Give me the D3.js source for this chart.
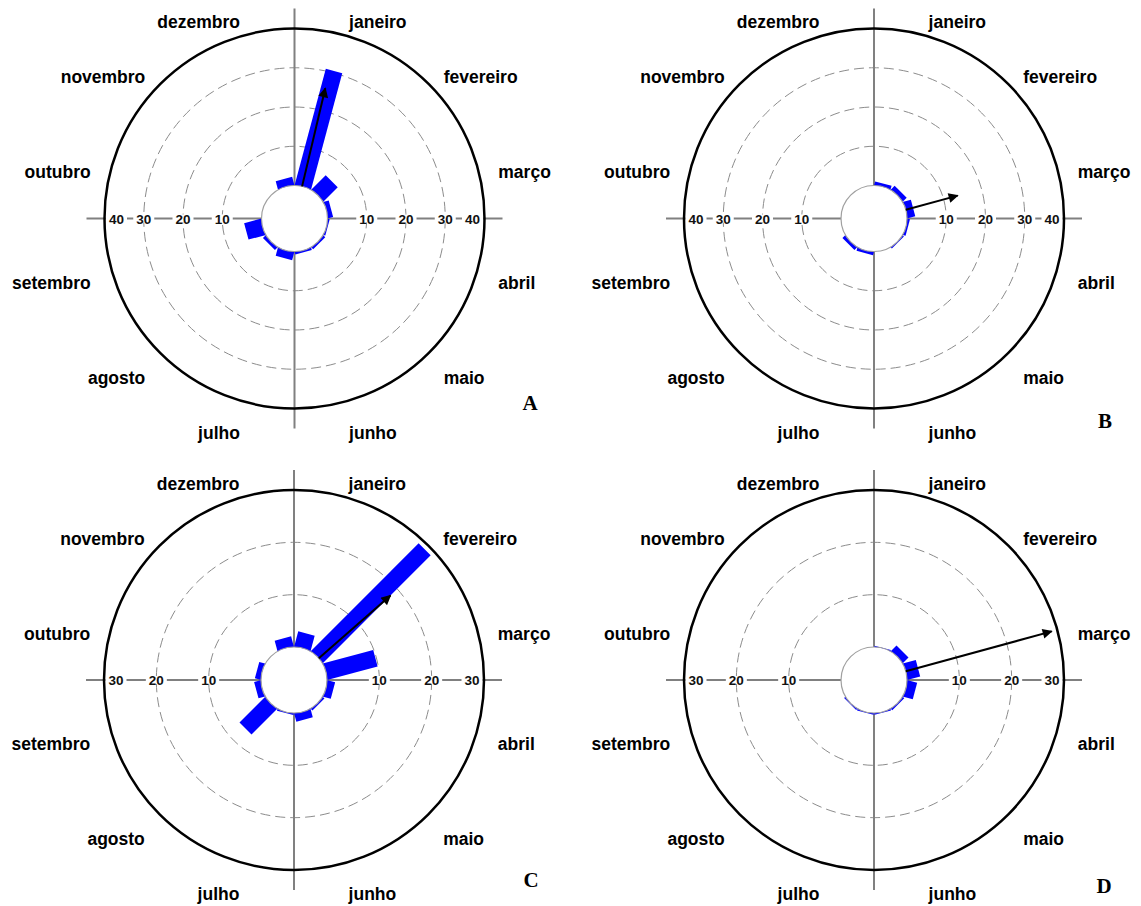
<!DOCTYPE html>
<html>
<head>
<meta charset="utf-8">
<script src="https://cdn.jsdelivr.net/npm/d3@7"></script>
<style>
  html, body { margin: 0; padding: 0; background: #fff; }
  svg { display: block; }
</style>
</head>
<body>
<script>
// ---------------- data ----------------
const months = ["janeiro","fevereiro","março","abril","maio","junho","julho","agosto","setembro","outubro","novembro","dezembro"];
const panelNames = ["A","B","C","D"];
const valuesA = [30.5, 5.0, 1.2, 0.3, 0.5, 0.5, 2.0, 0.8, 4.3, 0, 0, 2.0];
const valuesB = [0.8, 1.2, 1.9, 0.5, 0.2, 0, 0.7, 0.8, 0, 0, 0, 0];
const valuesC = [2.9, 29.0, 9.8, 1.4, 0.3, 1.5, 0.2, 6.8, 1.15, 1.0, 0, 1.9];
const valuesD = [0.05, 1.4, 2.4, 1.8, 0.25, 0.15, 0.15, 0.15, 0, 0, 0, 0];
const meanAngles = [13.3, 74.7, 48.8, 74.7];      // degrees clockwise from north
const meanLengths = [25.7, 13.7, 18.2, 28.9];     // in radial units
const radialMax = [40, 40, 30, 30];
const ticksAB = [10, 20, 30, 40];
const ticksCD = [10, 20, 30];

const panels = [
  {name: panelNames[0], values: valuesA, ticks: ticksAB, max: radialMax[0], mAng: meanAngles[0], mLen: meanLengths[0], cx: 294.5, cy: 218.5, lx: 530, ly: 403},
  {name: panelNames[1], values: valuesB, ticks: ticksAB, max: radialMax[1], mAng: meanAngles[1], mLen: meanLengths[1], cx: 874, cy: 218.5, lx: 1105, ly: 421},
  {name: panelNames[2], values: valuesC, ticks: ticksCD, max: radialMax[2], mAng: meanAngles[2], mLen: meanLengths[2], cx: 294, cy: 680, lx: 531, ly: 880},
  {name: panelNames[3], values: valuesD, ticks: ticksCD, max: radialMax[3], mAng: meanAngles[3], mLen: meanLengths[3], cx: 874, cy: 680, lx: 1104, ly: 886}
];

const W = 1141, H = 906;
const R_OUT = 190, R_IN = 33;

const svg = d3.select("body").append("svg").attr("width", W).attr("height", H);

svg.append("defs").append("marker")
  .attr("id", "arrowhead")
  .attr("viewBox", "0 0 10 10")
  .attr("refX", 9).attr("refY", 5)
  .attr("markerWidth", 6).attr("markerHeight", 5)
  .attr("markerUnits", "strokeWidth")
  .attr("orient", "auto")
  .append("path").attr("d", "M0,0 L10,5 L0,10 z").attr("fill", "#000");

const angleScale = d3.scaleLinear().domain([0, 12]).range([0, 360]);
const rad = d => d * Math.PI / 180;
const px = (r, a) => r * Math.sin(rad(a));
const py = (r, a) => -r * Math.cos(rad(a));

panels.forEach(p => {
  const g = svg.append("g").attr("transform", `translate(${p.cx},${p.cy})`);
  const rScale = d3.scaleLinear().domain([0, p.max]).range([R_IN, R_OUT]);

  // dashed rings
  g.selectAll("circle.ring").data(p.ticks.filter(t => t < p.max)).enter()
    .append("circle").attr("class", "ring")
    .attr("r", d => rScale(d))
    .attr("fill", "none").attr("stroke", "#8c8c8c").attr("stroke-width", 1)
    .attr("stroke-dasharray", "10,5");

  // axis lines
  g.append("line").attr("x1", 0).attr("x2", 0).attr("y1", -210).attr("y2", 210)
    .attr("stroke", "#808080").attr("stroke-width", 2);
  g.append("line").attr("x1", -208).attr("x2", 208).attr("y1", 0).attr("y2", 0)
    .attr("stroke", "#808080").attr("stroke-width", 2);

  // bars (thick radial lines)
  g.selectAll("line.bar").data(p.values.map((v, i) => ({v, a: angleScale(i + 0.5)})).filter(d => d.v > 0)).enter()
    .append("line").attr("class", "bar")
    .attr("x1", 0).attr("y1", 0)
    .attr("x2", d => px(rScale(d.v), d.a))
    .attr("y2", d => py(rScale(d.v), d.a))
    .attr("stroke", "#0000ff").attr("stroke-width", 17).attr("stroke-linecap", "butt");

  // inner circle
  g.append("circle").attr("r", R_IN).attr("fill", "#fff").attr("stroke", "#a0a0a0").attr("stroke-width", 1.2);

  // mean vector arrow
  g.append("line")
    .attr("x1", px(R_IN, p.mAng)).attr("y1", py(R_IN, p.mAng))
    .attr("x2", px(rScale(p.mLen), p.mAng)).attr("y2", py(rScale(p.mLen), p.mAng))
    .attr("stroke", "#000").attr("stroke-width", 2)
    .attr("marker-end", "url(#arrowhead)");

  // tick labels on horizontal axis
  const tickData = [];
  p.ticks.forEach(t => {
    const rr = t === p.max ? rScale(t) - 12 : rScale(t);
    tickData.push({t, x: rr}); tickData.push({t, x: -rr});
  });
  const tg = g.selectAll("g.tick").data(tickData).enter().append("g").attr("class", "tick")
    .attr("transform", d => `translate(${d.x},0)`);
  tg.append("rect").attr("x", -10.5).attr("y", -4).attr("width", 21).attr("height", 8).attr("fill", "#fff");
  tg.append("text").text(d => d.t)
    .attr("text-anchor", "middle").attr("y", 5)
    .attr("font-family", "'Liberation Sans', Arial, sans-serif")
    .attr("font-weight", "bold").attr("font-size", 13.5).attr("fill", "#111");

  // outer circle
  g.append("circle").attr("r", R_OUT).attr("fill", "none").attr("stroke", "#000").attr("stroke-width", 2.5);

  // month labels
  g.selectAll("text.month").data(months).enter().append("text").attr("class", "month")
    .text(d => d)
    .attr("x", (d, i) => 211 * Math.sin(rad(angleScale(i + 0.5))))
    .attr("y", (d, i) => 9.5 - 212.7 * Math.cos(rad(angleScale(i + 0.5))) + 5.5)
    .attr("text-anchor", (d, i) => Math.sin(rad(angleScale(i + 0.5))) > 0 ? "start" : "end")
    .attr("font-family", "'Liberation Sans', Arial, sans-serif")
    .attr("font-weight", "bold").attr("font-size", 17.5).attr("fill", "#000");

  // panel letter
  svg.append("text").text(p.name)
    .attr("x", p.lx).attr("y", p.ly + 7)
    .attr("text-anchor", "middle")
    .attr("font-family", "'Liberation Serif', 'Times New Roman', serif")
    .attr("font-weight", "bold").attr("font-size", 21).attr("fill", "#000");
});
</script>
</body>
</html>
